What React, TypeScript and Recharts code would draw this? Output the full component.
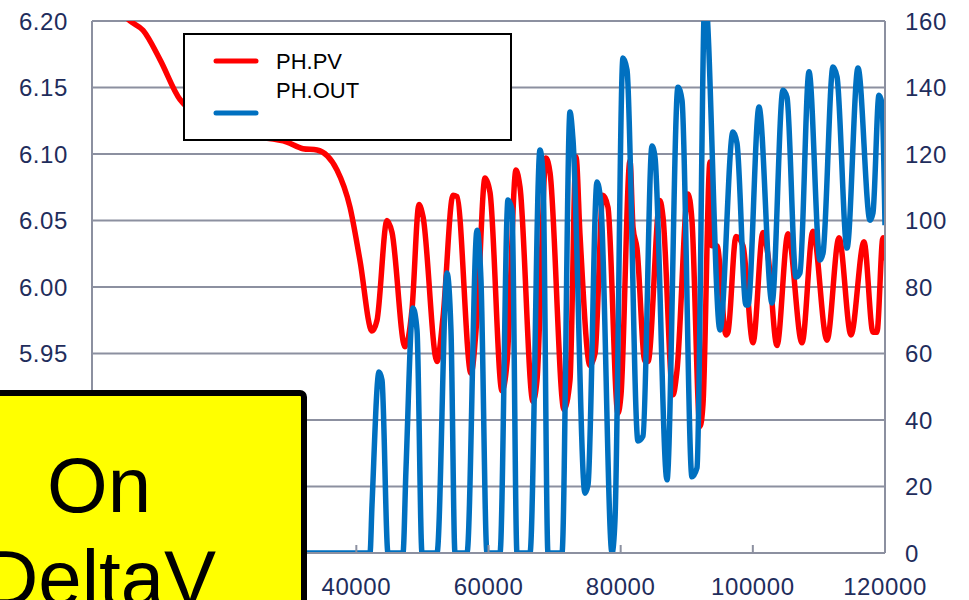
import { LineChart, Line, XAxis, YAxis, CartesianGrid } from "recharts";

// PH.PV trend (left axis)
const pvTime = [
  0, 5750, 7720, 10290, 13320, 18610, 23910, 29510, 31930, 34050, 37070,
  39040, 40550, 42370, 43130, 44640, 45400, 47360, 48420, 49480, 50090,
  52210, 53110, 54630, 55230, 57350, 58260, 59470, 60230, 62040, 62800,
  64160, 64770, 66730, 67340, 68700, 69310, 71420, 72330, 73240, 73850,
  75360, 76120, 77320, 78080, 79590, 80050, 81410, 81870, 82470, 83680,
  84130, 85950, 86400, 87920, 88520, 90190, 90790, 92000, 92460, 93520,
  93820, 94580, 95940, 96240, 97450, 98510, 100020, 101540, 102290, 103650,
  105320, 107440, 109100, 111220, 113040, 114850, 116820, 118180, 118780,
  119690, 120000,
];
const pvValue = [
  6.237, 6.2, 6.193, 6.171, 6.141, 6.124, 6.114, 6.109, 6.104, 6.103, 6.088,
  6.06, 6.02, 5.967, 5.975, 6.05, 6.041, 5.955, 5.983, 6.062, 6.053,
  5.944, 5.977, 6.069, 6.068, 5.935, 5.977, 6.082, 6.071, 5.922, 5.943,
  6.088, 6.075, 5.914, 5.93, 6.097, 6.086, 5.908, 5.93, 6.098, 6.039,
  5.941, 5.95, 6.069, 6.06, 5.905, 5.919, 6.095, 6.045, 6.029, 5.944,
  5.944, 6.065, 6.053, 5.919, 5.937, 6.07, 6.05, 5.895, 5.912, 6.094,
  6.031, 6.031, 5.964, 5.966, 6.038, 6.031, 5.958, 6.041, 6.024, 5.956,
  6.04, 5.958, 6.042, 5.96, 6.037, 5.964, 6.034, 5.966, 5.966,
  6.037, 6.02,
];

// PH.OUT trend (right axis)
const outTime = [
  0, 42070, 42370, 43430, 43880, 44790, 47060, 47510, 48570, 49180, 49940,
  52210, 53720, 54320, 54930, 56750, 58260, 58860, 59770, 61740, 62950,
  63560, 64310, 66280, 67790, 68250, 69000, 71120, 72330, 72790, 74600,
  75060, 76420, 77020, 78690, 79140, 80350, 80960, 82620, 83380, 84740,
  85190, 87010, 88670, 89280, 90790, 91550, 92760, 95030, 96990, 97600,
  98960, 99270, 100930, 102900, 104560, 105170, 106530, 107130, 108500,
  110160, 110620, 112130, 112740, 114250, 115910, 117730, 118180, 119090,
  119540, 120000,
];
const outValue = [
  0, 0, 14.4, 54.4, 52.0, 0, 0, 25.0, 73.7, 67.1, 0,
  0, 84.2, 67.1, 0, 0, 97.1, 82.1, 0, 0, 106.2,
  103.2, 0, 0, 121.2, 113.7, 0, 0, 132.6, 124.2, 18.0,
  20.5, 111.6, 104.7, 0, 9.9, 148.9, 145.3, 33.7, 35.2, 122.4,
  119.1, 22.0, 140.1, 136.2, 22.9, 25.6, 168, 67.1, 126.6, 123.3,
  74.6, 74.6, 134.1, 75.2, 139.2, 137.1, 83.0, 84.2, 144.7,
  88.1, 90.2, 146.2, 143.2, 91.7, 145.9, 100.1, 102.3, 137.7,
  135.3, 98.6,
];

const xTicks = [0, 20000, 40000, 60000, 80000, 100000, 120000];
const pvTicks = [5.8, 5.85, 5.9, 5.95, 6.0, 6.05, 6.1, 6.15, 6.2];
const outTicks = [0, 20, 40, 60, 80, 100, 120, 140, 160];

const pvData = pvTime.map((t, i) => ({ t, v: pvValue[i] }));
const outData = outTime.map((t, i) => ({ t, v: outValue[i] }));

const GRID = "#8C90A0";
const LABEL = "#1F2D5C";
const FONT = "'Liberation Sans', Arial, sans-serif";
const tickStyle = { fill: LABEL, fontSize: 24, fontFamily: FONT, letterSpacing: 0.6 };

export default function App() {
  return (
    <div style={{ position: "absolute", left: 0, top: 0, width: 969, height: 600, overflow: "hidden", background: "#fff" }}>
      <LineChart width={969} height={600} margin={{ top: 21, right: 0, bottom: 0, left: 0 }}>
        <CartesianGrid vertical={false} stroke={GRID} strokeWidth={2} yAxisId="pv" />
        <XAxis
          dataKey="t"
          type="number"
          domain={[0, 120000]}
          ticks={xTicks}
          allowDataOverflow
          height={47}
          stroke={GRID}
          strokeWidth={2}
          tickSize={-8}
          tickMargin={33}
          tick={tickStyle}
          interval={0}
        />
        <YAxis
          yAxisId="pv"
          orientation="left"
          type="number"
          domain={[5.8, 6.2]}
          ticks={pvTicks}
          allowDataOverflow
          width={92}
          stroke={GRID}
          strokeWidth={2}
          tickLine={false}
          tickSize={0}
          tickMargin={24}
          tick={tickStyle}
          tickFormatter={(v: number) => v.toFixed(2)}
          interval={0}
        />
        <YAxis
          yAxisId="out"
          orientation="right"
          type="number"
          domain={[0, 160]}
          ticks={outTicks}
          allowDataOverflow
          width={84}
          stroke={GRID}
          strokeWidth={2}
          tickLine={false}
          tickSize={0}
          tickMargin={20}
          tick={tickStyle}
          interval={0}
        />
        <Line
          yAxisId="pv"
          data={pvData}
          dataKey="v"
          type="monotone"
          stroke="#FF0000"
          strokeWidth={5.5}
          dot={false}
          activeDot={false}
          isAnimationActive={false}
          name="PH.PV"
        />
        <Line
          yAxisId="out"
          data={outData}
          dataKey="v"
          type="monotone"
          stroke="#0070C0"
          strokeWidth={5.5}
          dot={false}
          activeDot={false}
          isAnimationActive={false}
          name="PH.OUT"
        />
      </LineChart>
      <svg
        width={969}
        height={600}
        style={{ position: "absolute", left: 0, top: 0, pointerEvents: "none" }}
      >
        {/* legend box */}
        <rect x={184} y={34} width={327} height={106} fill="#fff" stroke="#000" strokeWidth={2} />
        <line x1={216} y1={61} x2={256} y2={61} stroke="#FF0000" strokeWidth={5} strokeLinecap="round" />
        <line x1={216} y1={113} x2={256} y2={113} stroke="#0070C0" strokeWidth={5} strokeLinecap="round" />
        <text x={276} y={69} fontSize={22} fontFamily={FONT} fill="#000">PH.PV</text>
        <text x={276} y={98} fontSize={22} fontFamily={FONT} fill="#000">PH.OUT</text>
        {/* annotation */}
        <rect x={-110} y={393} width={414} height={260} rx={4} fill="#FFFF00" stroke="#000" strokeWidth={6} />
        <text x={99} y={512} fontSize={78} fontFamily={FONT} fill="#000" textAnchor="middle">On</text>
        <text x={99} y={605} fontSize={78} fontFamily={FONT} fill="#000" textAnchor="middle">DeltaV</text>
      </svg>
    </div>
  );
}
